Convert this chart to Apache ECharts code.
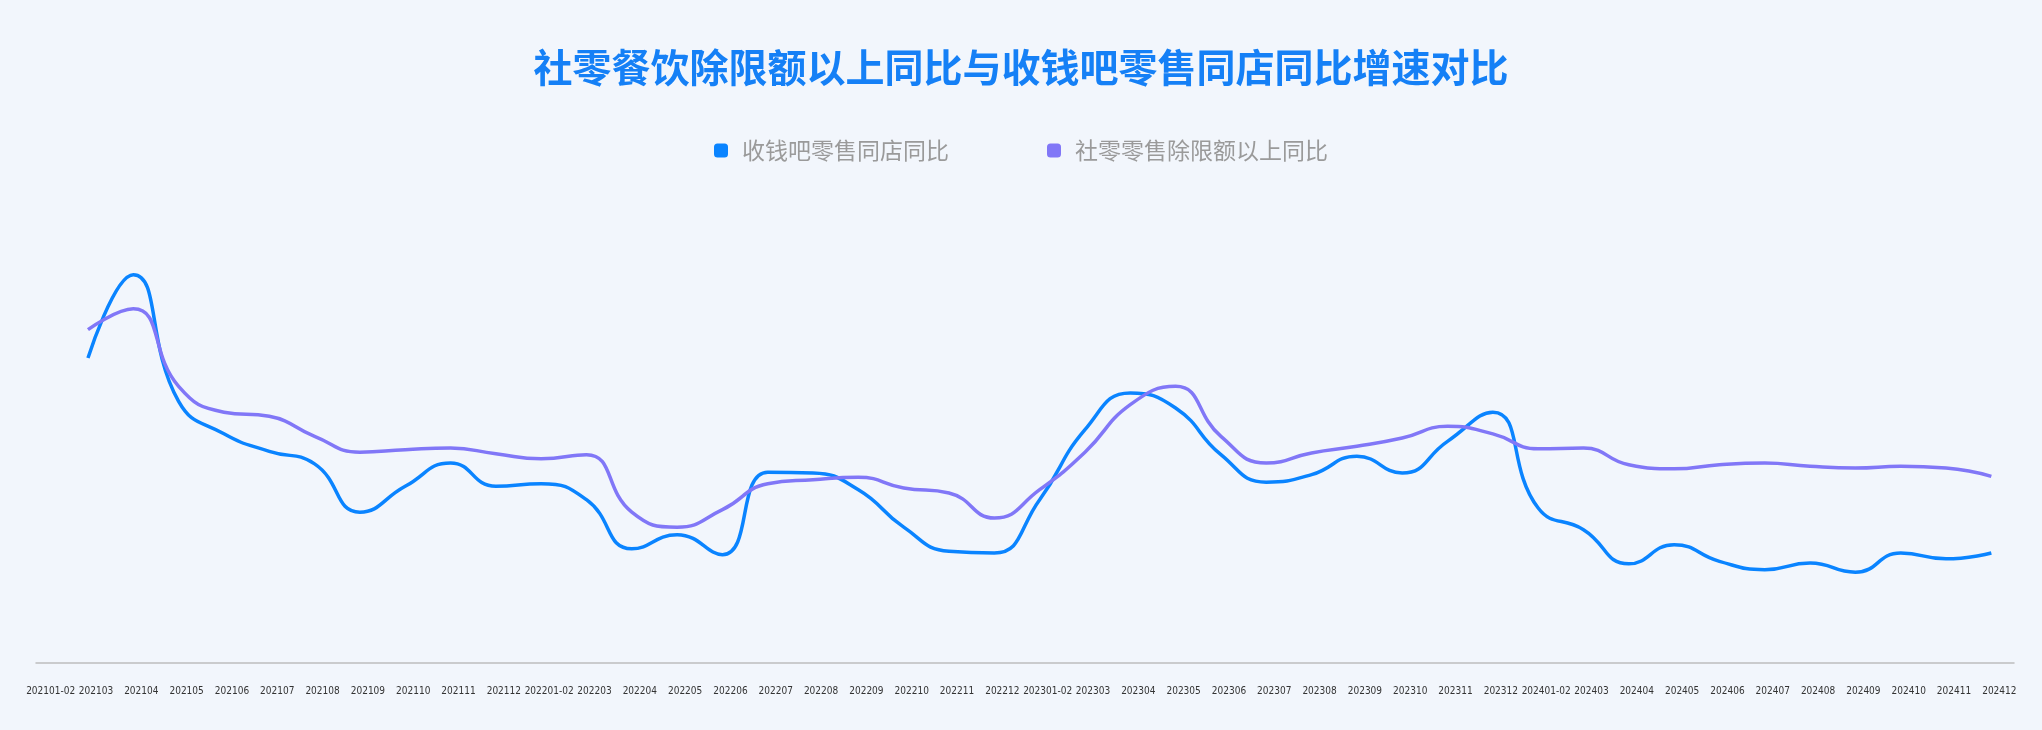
<!DOCTYPE html>
<html>
<head>
<meta charset="utf-8">
<title>社零餐饮除限额以上同比与收钱吧零售同店同比增速对比</title>
<script src="https://cdn.jsdelivr.net/npm/echarts@6/dist/echarts.min.js"></script>
<style>
  html, body { margin: 0; padding: 0; background: #F2F6FC; }
  #chart { width: 2042px; height: 730px; }
</style>
</head>
<body>
<div id="chart"></div>
<script>
const months = [
  '202101-02', '202103', '202104', '202105', '202106', '202107', '202108', '202109', '202110', '202111', '202112',
  '202201-02', '202203', '202204', '202205', '202206', '202207', '202208', '202209', '202210', '202211', '202212',
  '202301-02', '202303', '202304', '202305', '202306', '202307', '202308', '202309', '202310', '202311', '202312',
  '202401-02', '202403', '202404', '202405', '202406', '202407', '202408', '202409', '202410', '202411', '202412'
]

// 收钱吧零售同店同比 (no value for 202101-02)
const sqbSameStore = [
  null, 6.6, 16.6, 1.4, -2.5, -4.6, -6.1, -11.9, -8.8, -6.0, -8.8,
  -8.5, -10.4, -16.3, -14.6, -17.0, -7.1, -7.2, -9.2, -13.7, -16.6, -16.8,
  -10.4, -2.0, 2.4, 0.6, -5.0, -8.3, -7.4, -5.2, -7.2, -3.4, 0.1,
  -11.4, -14.0, -18.1, -15.8, -17.8, -18.8, -18.0, -19.1, -16.8, -17.5, -16.8
]

// 社零零售除限额以上同比
const retailYoy = [
  null, 10.0, 12.5, 3.2, 0.1, -0.4, -2.8, -4.7, -4.4, -4.2, -4.9,
  -5.5, -5.0, -11.9, -13.7, -11.6, -8.5, -8.0, -7.7, -9.0, -9.6, -12.6,
  -9.2, -4.7, 1.0, 3.2, -2.8, -6.0, -4.8, -4.0, -3.0, -1.6, -2.5,
  -4.3, -4.2, -6.2, -6.7, -6.2, -6.0, -6.4, -6.6, -6.4, -6.6, -7.6
]

const chart = echarts.init(document.getElementById('chart'))

const option = {
  backgroundColor: '#F2F6FC',
  title: {
    text: '社零餐饮除限额以上同比与收钱吧零售同店同比增速对比',
    left: 'center',
    top: 43,
    textStyle: {
      color: '#1580F6',
      fontSize: 39,
      fontWeight: 'bold',
      fontFamily: 'Noto Sans CJK SC'
    }
  },
  legend: {
    top: 134,
    left: 'center',
    itemWidth: 14,
    itemHeight: 14,
    itemGap: 98,
    icon: 'roundRect',
    textStyle: {
      color: '#9A9A9A',
      fontSize: 23,
      fontFamily: 'Noto Sans CJK SC',
      padding: [0, 0, 0, 9]
    },
    data: ['收钱吧零售同店同比', '社零零售除限额以上同比']
  },
  grid: [
    { left: 20, right: 28, top: 163, bottom: 67 },
    // only carries the visible baseline
    { left: 36, right: 28, top: 600, bottom: 67 }
  ],
  xAxis: [
    {
      type: 'category',
      data: months,
      boundaryGap: true,
      axisLine: { show: false },
      axisTick: { show: false },
      axisLabel: {
        interval: 0,
        margin: 23,
        color: '#333',
        fontSize: 10,
        fontFamily: "'Liberation Sans Narrow', 'DejaVu Sans Condensed', sans-serif",
        padding: [0, 0, 0, 16]
      }
    },
    {
      type: 'value',
      gridIndex: 1,
      min: 0,
      max: 1,
      axisLine: { show: true, lineStyle: { color: '#BDBDBD', width: 1.5 } },
      axisTick: { show: false },
      axisLabel: { show: false },
      splitLine: { show: false }
    }
  ],
  yAxis: [
    { type: 'value', min: -30, max: 30, show: false },
    { type: 'value', gridIndex: 1, show: false }
  ],
  series: [
    {
      name: '收钱吧零售同店同比',
      type: 'line',
      data: sqbSameStore,
      smooth: true,
      showSymbol: false,
      color: '#0A84FF',
      lineStyle: { width: 3.5, color: '#0A84FF' }
    },
    {
      name: '社零零售除限额以上同比',
      type: 'line',
      data: retailYoy,
      smooth: true,
      showSymbol: false,
      color: '#8177F7',
      lineStyle: { width: 3.5, color: '#8177F7' }
    }
  ]
}

chart.setOption(option)
window.onresize = () => {
  chart.resize()
}
</script>
</body>
</html>
